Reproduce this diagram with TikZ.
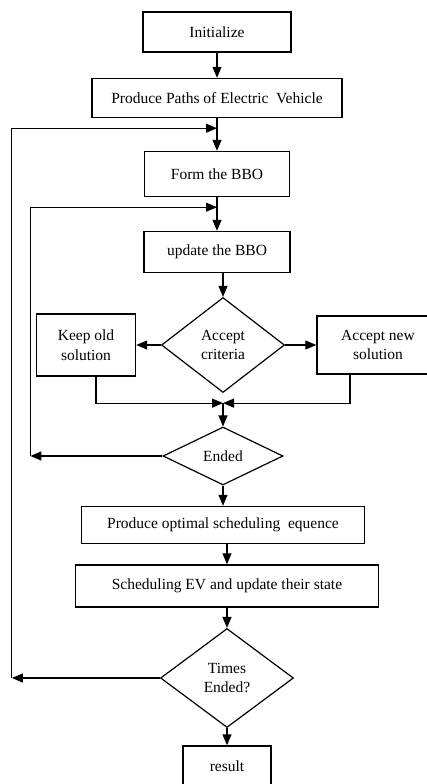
\documentclass[tikz,border=0pt]{standalone}
\usepackage{fontspec}
\setmainfont{Liberation Serif}
\usetikzlibrary{positioning,shapes.geometric,arrows.meta}

\begin{document}
\begin{tikzpicture}[x=1pt, y=1pt, on grid,
                        font=\fontsize{15.5}{19.5}\selectfont,
                        block/.style = {draw, line width=1.4pt, minimum height=40pt, align=center, inner sep=2pt},
                        decision/.style = {draw, diamond, line width=1.2pt, inner sep=0pt, align=center, aspect=1.3},
                        arrow/.style = {line width=1.1pt, -{Triangle[length=11pt,width=9pt]}}]
                        \useasboundingbox (0,0) rectangle (427,-784);

                        \node[block, minimum width=148pt](init) at (217,-32){Initialize};
                        \node[block, minimum width=250pt, minimum height=39pt](paths)[below=66pt of init]{Produce Paths of Electric~~Vehicle};
                        \node[block, minimum width=145pt, minimum height=45pt](form)[below=76pt of paths]{Form the BBO};
                        \node[block, minimum width=146pt, minimum height=41pt](update)[below=78pt of form]{update the BBO};
                        \node[decision, minimum width=123pt, minimum height=95pt](accept)[below=93pt of update, xshift=6pt]{Accept\\criteria};
                        \node[block, minimum width=99pt, minimum height=62pt](keep)[left=137pt of accept]{Keep old\\solution};
                        \node[block, minimum width=122pt, minimum height=58pt](new)[right=155pt of accept]{Accept new\\solution};
                        \node[decision, minimum width=120pt, minimum height=58pt](ended)[below=111pt of accept]{Ended};
                        \node[block, minimum width=283pt, minimum height=37pt](optimal)[below=69pt of ended]{Produce optimal scheduling~~equence};
                        \node[block, minimum width=303pt, minimum height=42pt](sched)[below=61pt of optimal, xshift=4pt]{Scheduling EV and update their state};
                        \node[decision, minimum width=133pt, minimum height=99pt](times)[below=92pt of sched]{Times\\Ended?};
                        \node[block, minimum width=88pt](result)[below=88pt of times]{result};

                        \coordinate[below=10pt of paths.south] (join1);
                        \coordinate[below=10pt of form.south] (join2);
                        \coordinate[below=10pt of accept.south] (join3);
                        \coordinate[left=132pt of ended.west] (back2);
                        \coordinate[left=148pt of times.west] (back1);

                        \draw[arrow] (init) -- (paths);\draw[arrow] (paths) -- (form);\draw[arrow] (form) -- (update);
                        \draw[arrow] (update.south -| accept.north) -- (accept);
                        \draw[arrow] (accept) -- (keep);\draw[arrow] (accept) -- (new);
                        \draw[arrow] ([xshift=10pt]keep.south) |- (join3);
                        \draw[arrow] ([xshift=-28pt]new.south) |- (join3);
                        \draw[arrow] (join3) -- (ended);\draw[arrow] (ended) -- (optimal);
                        \draw[arrow] (optimal.south -| sched.north) -- (sched);
                        \draw[arrow] (sched) -- (times);\draw[arrow] (times) -- (result);

                        \draw[arrow] (ended) -- (back2);\draw[arrow] (back2) |- (join2);
                        \draw[arrow] (times) -- (back1);\draw[arrow] (back1) |- (join1);
                    \end{tikzpicture}
\end{document}
